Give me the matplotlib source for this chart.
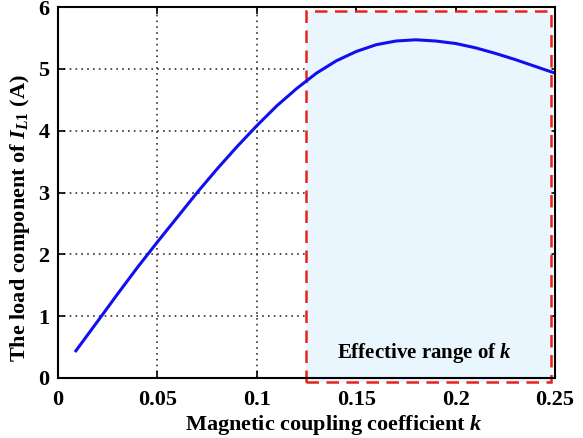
import numpy as np
import matplotlib.pyplot as plt
from matplotlib.patches import Rectangle

# load component of I_L1 versus coupling coefficient k
k = [0.009, 0.020, 0.030, 0.040, 0.050, 0.060, 0.070, 0.080, 0.090, 0.100,
     0.110, 0.120, 0.130, 0.140, 0.150, 0.160, 0.170, 0.180, 0.190, 0.200,
     0.210, 0.220, 0.230, 0.240, 0.250]
i_load = [0.44, 0.92, 1.36, 1.79, 2.20, 2.60, 3.00, 3.38, 3.74, 4.08,
          4.40, 4.68, 4.93, 5.13, 5.28, 5.39, 5.45, 5.47, 5.45, 5.41,
          5.34, 5.25, 5.15, 5.04, 4.93]

range_k = (0.1248, 0.248)
range_y = (-0.07, 5.94)

plt.rcParams['font.family'] = ['Liberation Serif', 'DejaVu Serif']
plt.rcParams['font.weight'] = 'bold'
plt.rcParams['mathtext.fontset'] = 'custom'
plt.rcParams['mathtext.rm'] = 'Liberation Serif:bold'
plt.rcParams['mathtext.it'] = 'Liberation Serif:italic:bold'
plt.rcParams['mathtext.bf'] = 'Liberation Serif:bold'

fig = plt.figure(figsize=(5.83, 4.38), dpi=100)
ax = fig.add_axes([0.0995, 0.137, 0.8525, 0.847])

rect = Rectangle((range_k[0], range_y[0]), range_k[1] - range_k[0],
                 range_y[1] - range_y[0], facecolor='#eaf6fd',
                 edgecolor='#e8231c', linestyle=(0, (5, 3)), linewidth=1.8,
                 clip_on=False, zorder=1)
ax.add_patch(rect)

ax.plot(k, i_load, color='#1010ee', linewidth=2.2, zorder=3)

ax.text(0.1846, 0.40, 'Effective range of $k$', ha='center', va='center',
        fontsize=15, fontweight='bold', zorder=4)

ax.set_xlim(0, 0.25)
ax.set_ylim(0, 6)
ax.set_xticks([0, 0.05, 0.1, 0.15, 0.2, 0.25])
ax.set_xticklabels(['0', '0.05', '0.1', '0.15', '0.2', '0.25'])
ax.set_yticks(range(7))
ax.grid(True, linestyle=(0, (1, 2.5)), color='#333333', linewidth=1.2)
ax.set_axisbelow(True)
ax.tick_params(direction='in', top=True, right=True, labelsize=16,
               width=1.2, length=5)
ax.tick_params(axis='x', pad=9)
ax.tick_params(axis='y', pad=6)
for s in ax.spines.values():
    s.set_linewidth(1.5)
    s.set_zorder(5)

ax.set_xlabel('Magnetic coupling coefficient $k$', fontsize=16,
              fontweight='bold')
ax.set_ylabel('The load component of $I_{L1}$ (A)', fontsize=16,
              fontweight='bold')
ax.xaxis.set_label_coords(0.556, -0.095)
ax.yaxis.set_label_coords(-0.052, 0.43)

fig.savefig('out.png', dpi=100)
